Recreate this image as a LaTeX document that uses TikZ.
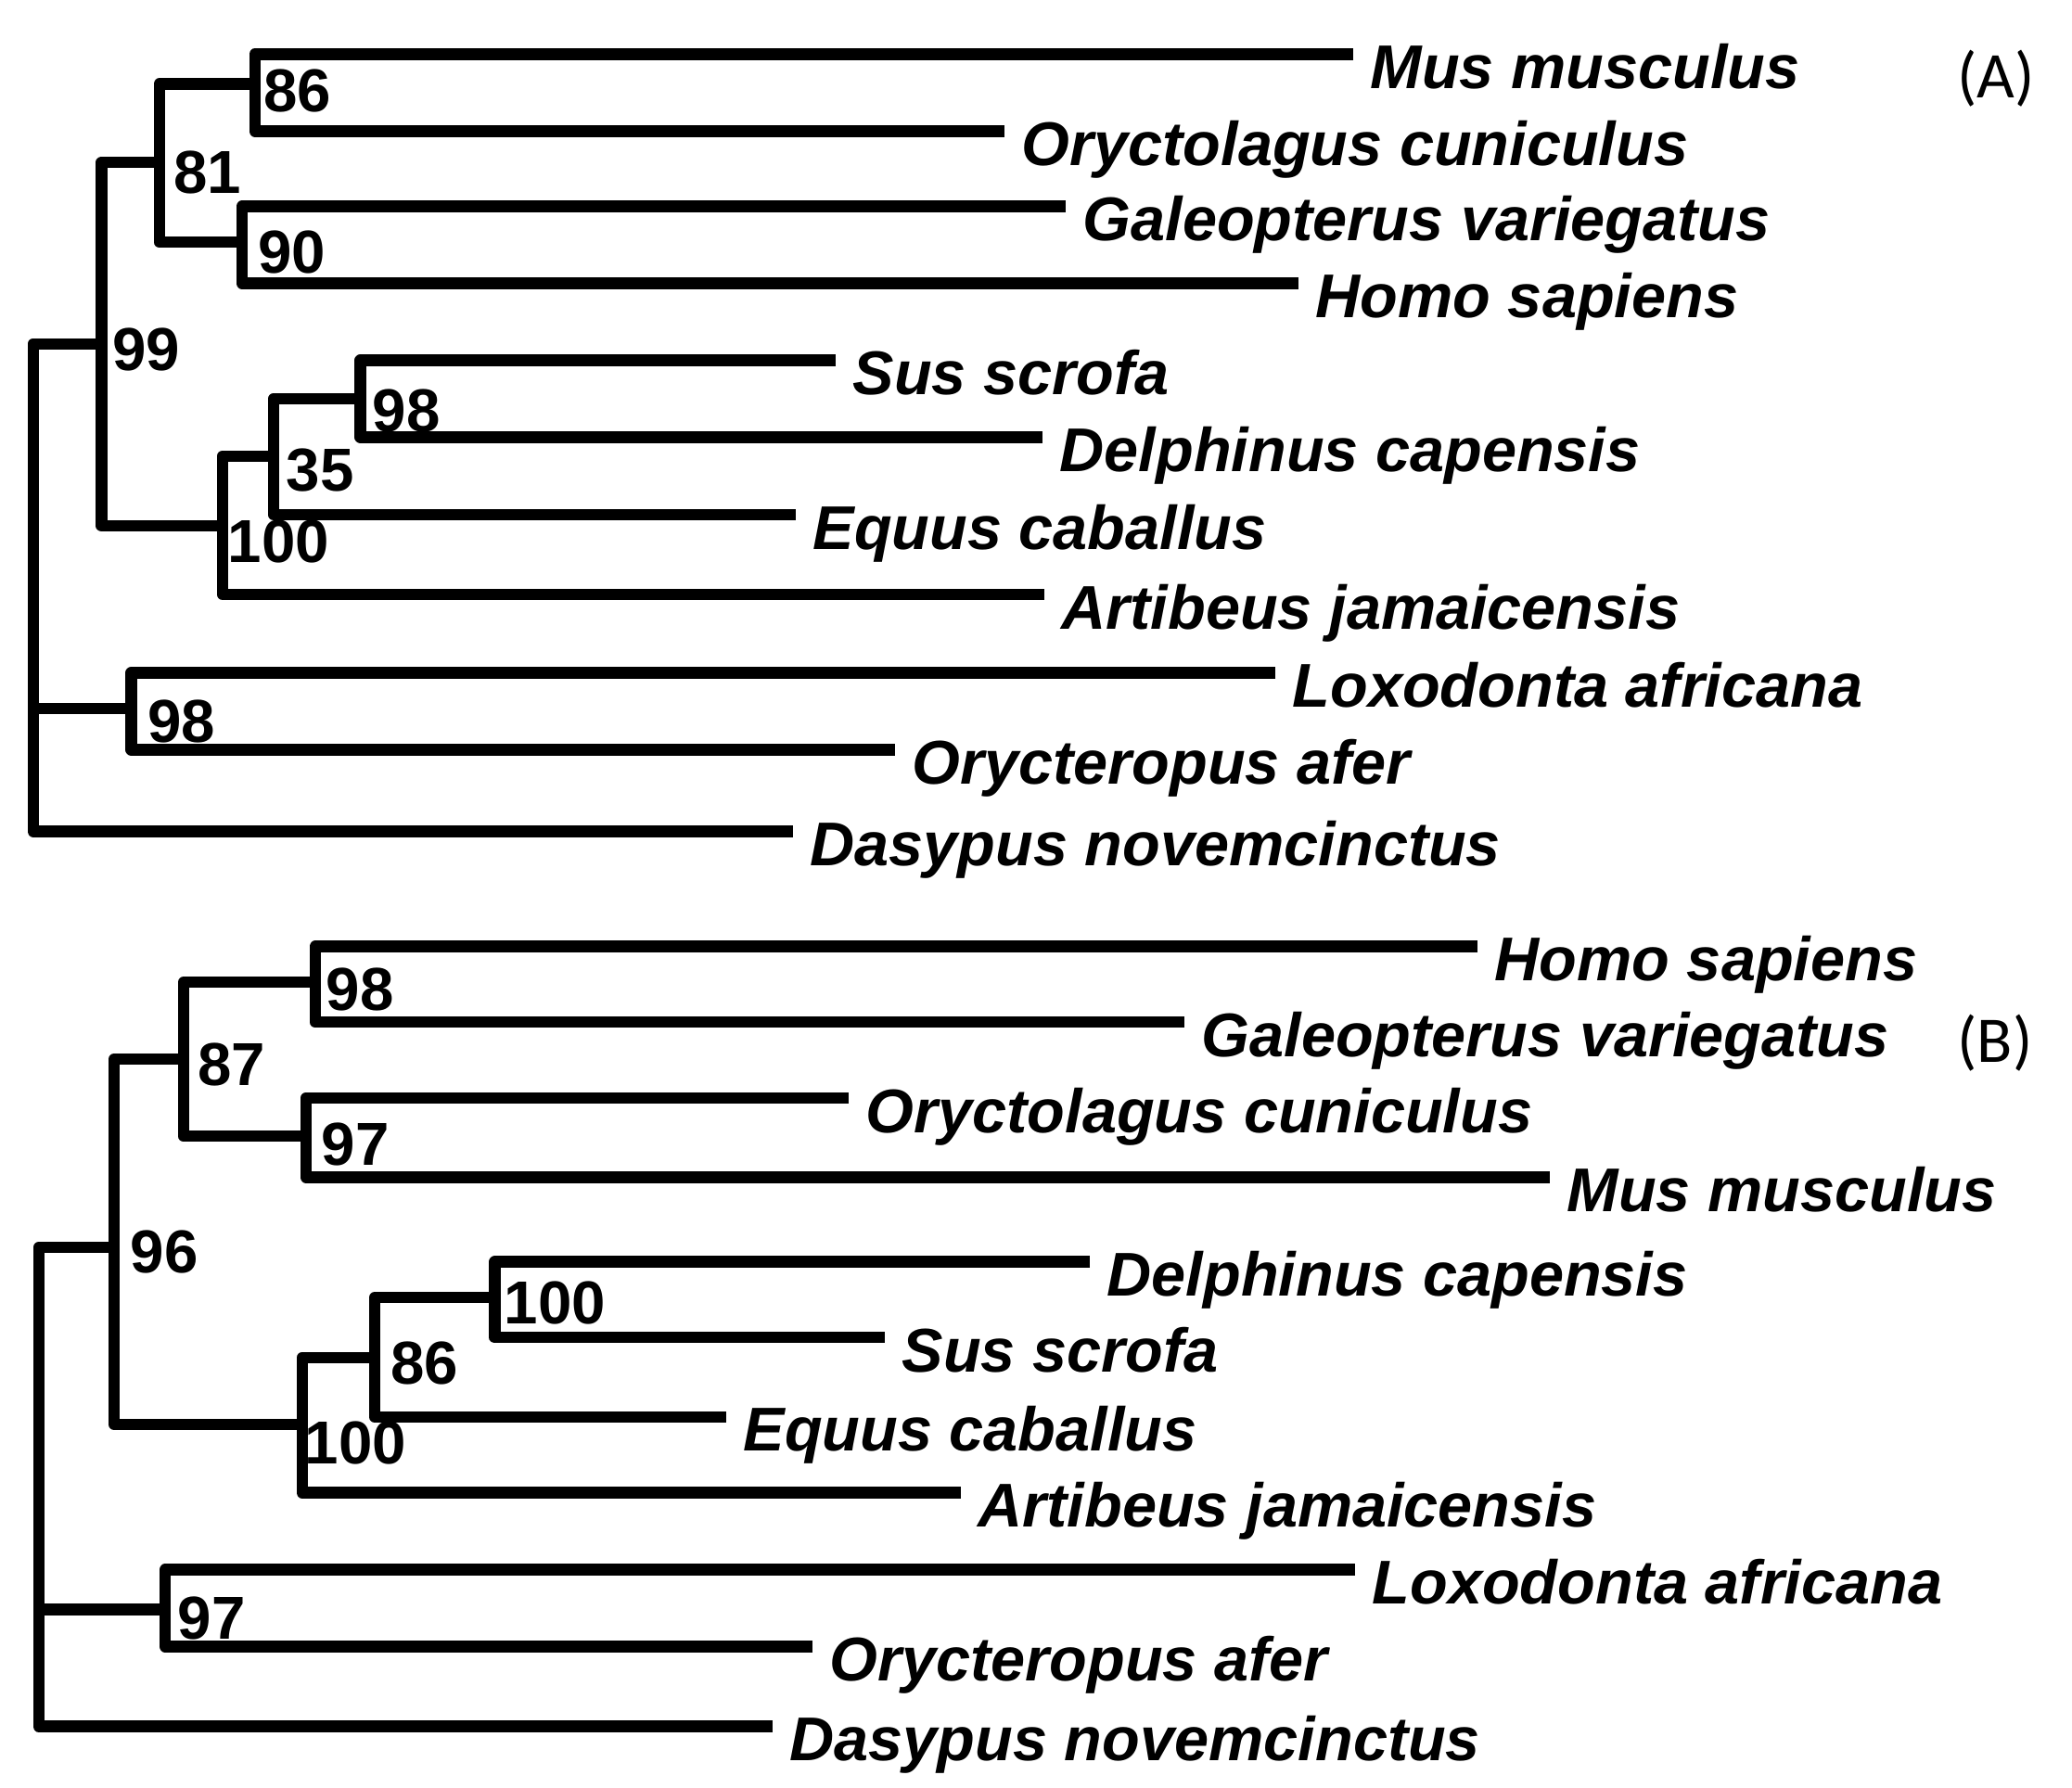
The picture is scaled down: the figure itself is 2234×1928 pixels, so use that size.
\documentclass[tikz,border=0pt]{standalone}
\usepackage{fontspec}
\setmainfont{Liberation Sans}
\newfontfamily\panelfont{Carlito}

\tikzset{
  branch/.style={line width=0.123cm, line join=round},
  taxon/.style={anchor=base west, inner sep=0pt, xshift=0.18cm, yshift=-0.37cm,
                font=\fontsize{18.95}{22}\selectfont\bfseries\itshape},
  boot/.style={anchor=west, inner sep=0pt, font=\fontsize{18.6}{22}\selectfont\bfseries},
  panel/.style={inner sep=0pt, font=\fontsize{20}{24}\selectfont\panelfont}
}

\begin{document}
\begin{tikzpicture}[x=0.01cm, y=-0.01cm]
    \useasboundingbox (0,0) rectangle (2234,1928);

    % (A) tips and names
    \foreach \n/\x/\y/\t in {a-mus/1459/58.4/Mus musculus, a-ory/1083/141.4/Oryctolagus cuniculus,
        a-gal/1149/222.5/Galeopterus variegatus, a-hom/1400/305.5/Homo sapiens,
        a-sus/901/388.5/Sus scrofa, a-del/1124/471.5/Delphinus capensis,
        a-equ/858/555/Equus caballus, a-art/1126/641/Artibeus jamaicensis,
        a-lox/1375/725.5/Loxodonta africana, a-oaf/965/808.4/Orycteropus afer,
        a-das/855/896.4/Dasypus novemcinctus} {
      \coordinate (\n) at (\x,\y);
      \node[taxon] (\n-l) at (\n) {\t};
    }
    \coordinate (a86) at (274.8,90.4);
    \coordinate (a90) at (261,261.3);
    \coordinate (a81) at (172,175.2);
    \coordinate (a98s) at (388.5,430);
    \coordinate (a35) at (295,491.8);
    \coordinate (a100) at (240,566.8);
    \coordinate (a99) at (109.4,370.7);
    \coordinate (a98l) at (141.4,764.2);
    \coordinate (aroot) at (35.7,764.2);

    \draw[branch] (a-mus) -| (a86) |- (a-ory);
    \draw[branch] (a-gal) -| (a90) |- (a-hom);
    \draw[branch] (a86) -| (a81) |- (a90);
    \draw[branch] (a-sus) -| (a98s) |- (a-del);
    \draw[branch] (a98s) -| (a35) |- (a-equ);
    \draw[branch] (a35) -| (a100) |- (a-art);
    \draw[branch] (a81) -| (a99) |- (a100);
    \draw[branch] (a-lox) -| (a98l) |- (a-oaf);
    \draw[branch] (a99) -| (aroot) |- (a-das);
    \draw[branch] (aroot) -- (a98l);

    \node[boot] (a86-v) at (283.5,98.4) {86};
    \node[boot] (a81-v) at (186.5,186) {81};
    \node[boot] (a90-v) at (277.5,272) {90};
    \node[boot] (a99-v) at (120.5,376.6) {99};
    \node[boot] (a98s-v) at (401,442.6) {98};
    \node[boot] (a35-v) at (308,507) {35};
    \node[boot] (a100-v) at (245,584) {100};
    \node[boot] (a98l-v) at (158.5,777.7) {98};
    \node[panel] (pa) at (2152,85) {(A)};

    % (B) tips and names
    \foreach \n/\x/\y/\t in {b-hom/1593/1020.6/Homo sapiens, b-gal/1277/1102.3/Galeopterus variegatus,
        b-ory/915/1184/Oryctolagus cuniculus, b-mus/1671/1269.5/Mus musculus,
        b-del/1175/1360.5/Delphinus capensis, b-sus/954/1442.3/Sus scrofa,
        b-equ/783/1527.8/Equus caballus, b-art/1036/1609.5/Artibeus jamaicensis,
        b-lox/1461/1692.5/Loxodonta africana, b-oaf/876/1775.5/Orycteropus afer,
        b-das/833/1861.6/Dasypus novemcinctus} {
      \coordinate (\n) at (\x,\y);
      \node[taxon] (\n-l) at (\n) {\t};
    }
    \coordinate (b98) at (340,1059.3);
    \coordinate (b97) at (330,1225.3);
    \coordinate (b87) at (198,1142.3);
    \coordinate (b100s) at (533.6,1399.3);
    \coordinate (b86) at (404,1463.8);
    \coordinate (b100) at (325.8,1535.7);
    \coordinate (b96) at (123,1345.2);
    \coordinate (b97l) at (178.3,1735.5);
    \coordinate (broot) at (41.8,1735.5);

    \draw[branch] (b-hom) -| (b98) |- (b-gal);
    \draw[branch] (b-ory) -| (b97) |- (b-mus);
    \draw[branch] (b98) -| (b87) |- (b97);
    \draw[branch] (b-del) -| (b100s) |- (b-sus);
    \draw[branch] (b100s) -| (b86) |- (b-equ);
    \draw[branch] (b86) -| (b100) |- (b-art);
    \draw[branch] (b87) -| (b96) |- (b100);
    \draw[branch] (b-lox) -| (b97l) |- (b-oaf);
    \draw[branch] (b96) -| (broot) |- (b-das);
    \draw[branch] (broot) -- (b97l);

    \node[boot] (b98-v) at (351,1067) {98};
    \node[boot] (b87-v) at (212.5,1148) {87};
    \node[boot] (b97-v) at (346,1233.6) {97};
    \node[boot] (b96-v) at (140,1349.8) {96};
    \node[boot] (b100s-v) at (543,1405) {100};
    \node[boot] (b86-v) at (420.5,1469.7) {86};
    \node[boot] (b100-v) at (328,1555.7) {100};
    \node[boot] (b97l-v) at (191,1744.7) {97};
    \node[panel] (pb) at (2151,1125) {(B)};
\end{tikzpicture}
\end{document}
